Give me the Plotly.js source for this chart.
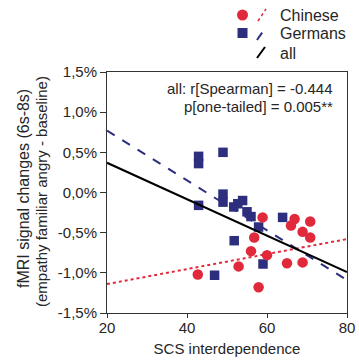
<!DOCTYPE html>
<html>
<head>
<meta charset="utf-8">
<script src="https://cdn.plot.ly/plotly-3.0.1.min.js"></script>
<style>html,body{margin:0;padding:0;background:#fff;}#chart{width:359px;height:361px;}</style>
</head>
<body>
<div id="chart"></div>
<script>
// Data (y in percent signal change)
var germansX = [42.9, 42.9, 49.0, 42.9, 49.0, 49.0, 51.7, 52.7, 53.9, 55.0, 56.0, 57.9, 63.9, 51.8, 59.0, 46.9];
var germansY = [0.45, 0.36, 0.50, -0.16, -0.02, -0.12, -0.18, -0.14, -0.10, -0.24, -0.30, -0.43, -0.31, -0.60, -0.89, -1.03];
var chineseX = [58.9, 66.9, 66.0, 70.8, 68.9, 70.8, 56.8, 56.0, 60.0, 52.9, 65.0, 68.9, 42.7, 57.9];
var chineseY = [-0.31, -0.33, -0.41, -0.36, -0.49, -0.56, -0.56, -0.73, -0.78, -0.92, -0.88, -0.87, -1.02, -1.18];
var fitX = [20, 80];
var fitAll = [0.37, -0.99];
var fitGermans = [0.77, -1.09];
var fitChinese = [-1.14, -0.58];
var xTicks = [20, 40, 60, 80];
var yTicks = [-1.5, -1.0, -0.5, 0.0, 0.5, 1.0, 1.5];
var yTickLabels = ['-1,5%', '-1,0%', '-0,5%', '0,0%', '0,5%', '1,0%', '1,5%'];

var red = '#e02a3c', blue = '#2d2f7e', txt = '#262626';
var font = 'Liberation Sans, Arial, sans-serif';

var traces = [
  {x: germansX, y: germansY, mode: 'markers', type: 'scatter', name: 'Germans',
   marker: {symbol: 'square', size: 9.5, color: blue}},
  {x: chineseX, y: chineseY, mode: 'markers', type: 'scatter', name: 'Chinese',
   marker: {symbol: 'circle', size: 10.5, color: red}},
  {x: fitX, y: fitChinese, mode: 'lines', type: 'scatter', name: 'Chinese fit',
   line: {color: red, width: 2, dash: 'dot'}},
  {x: fitX, y: fitGermans, mode: 'lines', type: 'scatter', name: 'Germans fit',
   line: {color: blue, width: 2, dash: 'dash'}},
  {x: fitX, y: fitAll, mode: 'lines', type: 'scatter', name: 'all fit',
   line: {color: '#000', width: 2}}
];

function lpx(px){ return (px - 107) / 240; }
function lpy(py){ return (313 - py) / 241; }

var shapes = [
  {type: 'circle', xref: 'paper', yref: 'paper', xsizemode: 'pixel', ysizemode: 'pixel',
   xanchor: lpx(242.5), yanchor: lpy(15), x0: -5.5, x1: 5.5, y0: -5.5, y1: 5.5,
   fillcolor: red, line: {width: 0}},
  {type: 'rect', xref: 'paper', yref: 'paper', xsizemode: 'pixel', ysizemode: 'pixel',
   xanchor: lpx(242.5), yanchor: lpy(33), x0: -5, x1: 5, y0: -5, y1: 5,
   fillcolor: blue, line: {width: 0}},
  {type: 'line', xref: 'paper', yref: 'paper', x0: lpx(258), y0: lpy(21), x1: lpx(266), y1: lpy(9),
   line: {color: red, width: 1.5, dash: 'dot'}},
  {type: 'line', xref: 'paper', yref: 'paper', x0: lpx(257), y0: lpy(40), x1: lpx(266), y1: lpy(27),
   line: {color: blue, width: 2, dash: 'dash'}},
  {type: 'line', xref: 'paper', yref: 'paper', x0: lpx(257), y0: lpy(58), x1: lpx(265), y1: lpy(47),
   line: {color: '#000', width: 2}}
];

var annotations = [
  {xref: 'paper', yref: 'paper', x: lpx(278), y: lpy(16), xanchor: 'left', yanchor: 'middle',
   text: 'Chinese', showarrow: false, font: {family: font, size: 16, color: txt}},
  {xref: 'paper', yref: 'paper', x: lpx(278), y: lpy(34), xanchor: 'left', yanchor: 'middle',
   text: 'Germans', showarrow: false, font: {family: font, size: 16, color: txt}},
  {xref: 'paper', yref: 'paper', x: lpx(278), y: lpy(53), xanchor: 'left', yanchor: 'middle',
   text: 'all', showarrow: false, font: {family: font, size: 16, color: txt}},
  {xref: 'paper', yref: 'paper', x: lpx(335), y: lpy(88), xanchor: 'right', yanchor: 'middle',
   text: 'all: r[Spearman] = -0.444', showarrow: false, font: {family: font, size: 15, color: txt}},
  {xref: 'paper', yref: 'paper', x: lpx(335), y: lpy(106), xanchor: 'right', yanchor: 'middle',
   text: 'p[one-tailed] = 0.005**', showarrow: false, font: {family: font, size: 15, color: txt}},
  {xref: 'paper', yref: 'paper', x: lpx(23), y: lpy(189), xanchor: 'center', yanchor: 'middle',
   textangle: -90, text: 'fMRI signal changes (6s-8s)', showarrow: false,
   font: {family: font, size: 16, color: txt}},
  {xref: 'paper', yref: 'paper', x: lpx(41), y: lpy(192), xanchor: 'center', yanchor: 'middle',
   textangle: -90, text: '(empathy familiar angry - baseline)', showarrow: false,
   font: {family: font, size: 15, color: txt}}
];

var layout = {
  width: 359, height: 361,
  margin: {l: 107, r: 12, t: 72, b: 48, pad: 0},
  paper_bgcolor: '#fff', plot_bgcolor: '#fff',
  showlegend: false,
  font: {family: font, size: 15, color: txt},
  xaxis: {
    range: [20, 80], tickvals: xTicks, ticks: 'outside', ticklen: 4, tickcolor: '#333',
    ticklabelstandoff: -3,
    showline: true, linecolor: '#333', linewidth: 1, mirror: true, showgrid: false, zeroline: false,
    tickfont: {family: font, size: 15, color: txt},
    title: {text: 'SCS interdependence', font: {family: font, size: 15, color: txt}, standoff: 8}
  },
  yaxis: {
    range: [-1.5, 1.5], tickvals: yTicks, ticktext: yTickLabels,
    ticks: 'outside', ticklen: 6, tickcolor: '#333',
    showline: true, linecolor: '#333', linewidth: 1, mirror: true, showgrid: false, zeroline: false,
    tickfont: {family: font, size: 15, color: txt}
  },
  shapes: shapes,
  annotations: annotations
};

Plotly.newPlot('chart', traces, layout, {staticPlot: true, displayModeBar: false});
</script>
</body>
</html>
